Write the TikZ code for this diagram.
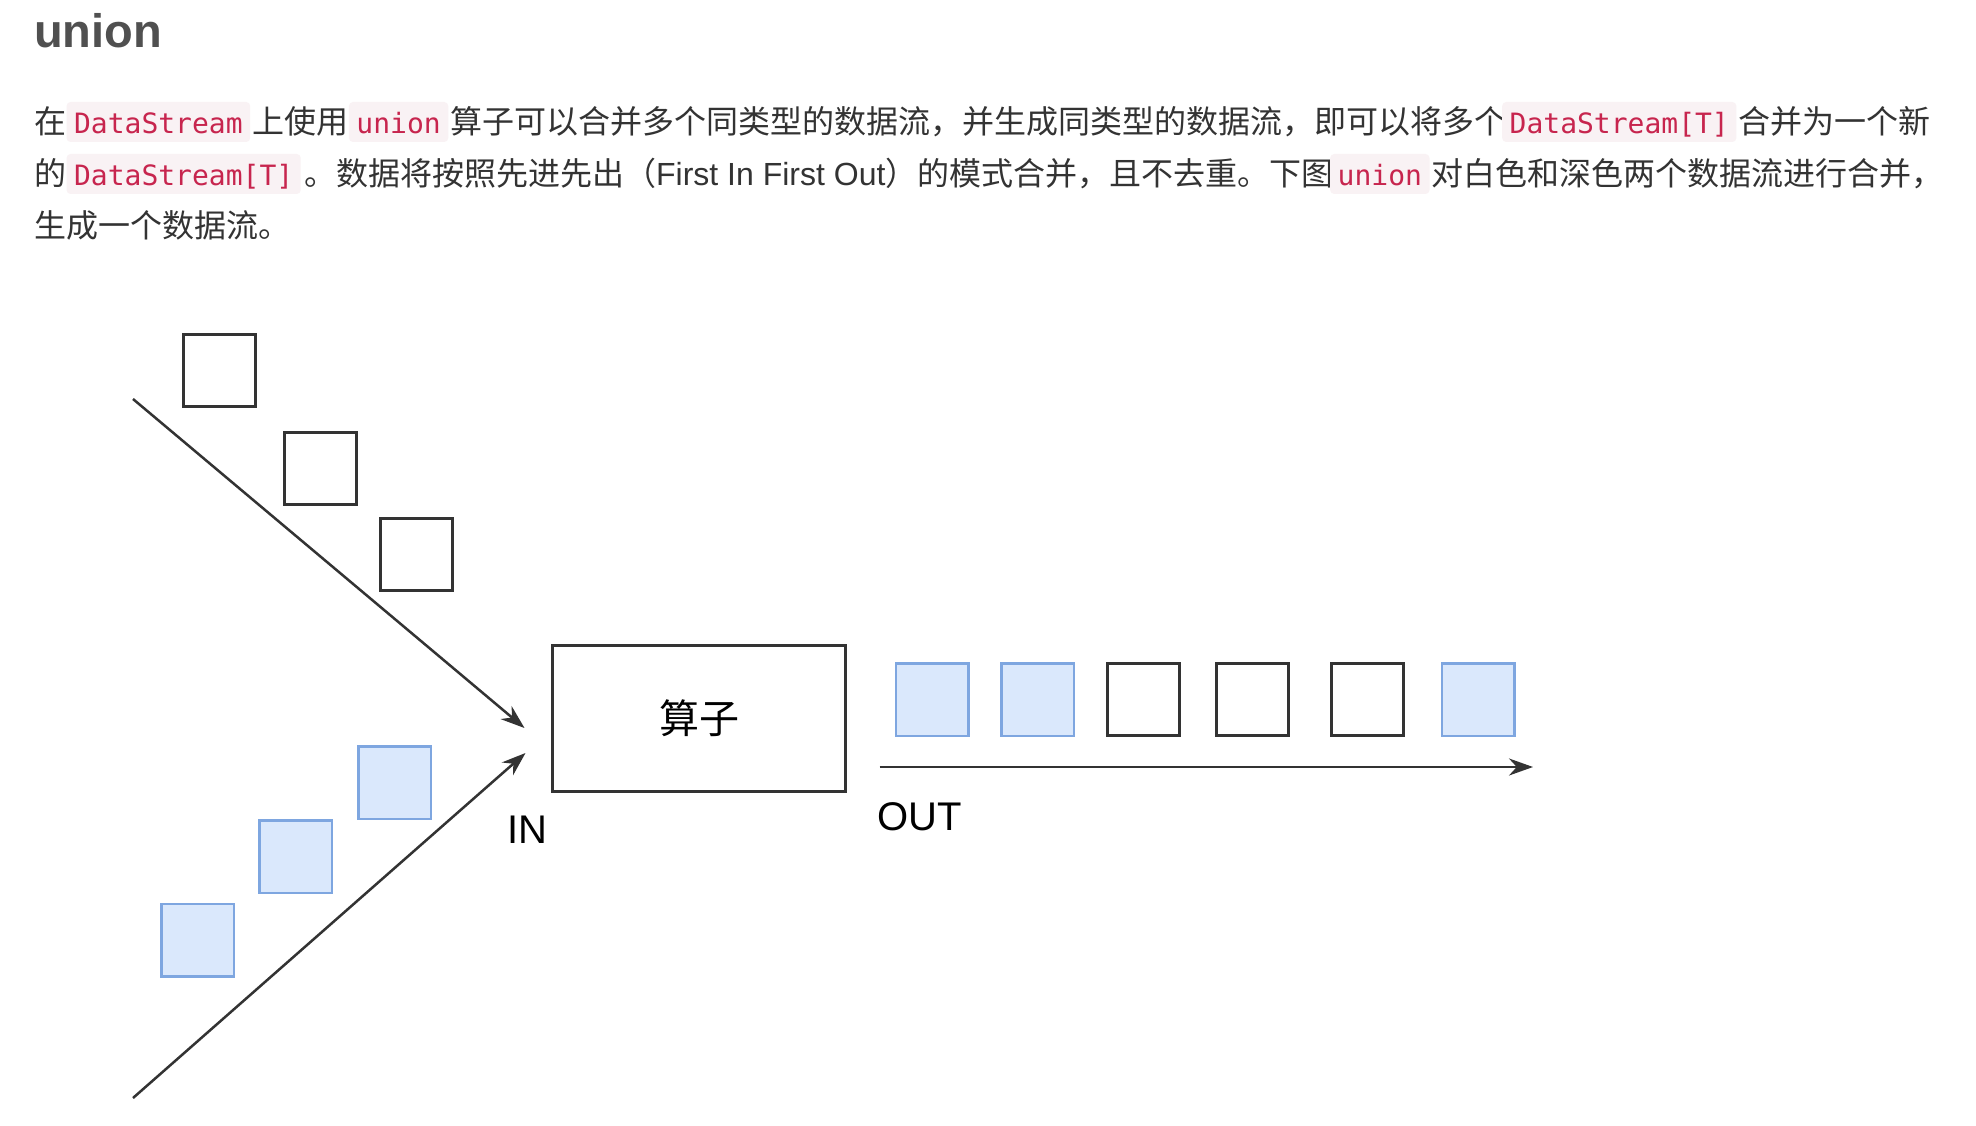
\documentclass[tikz,border=0pt]{standalone}
\usepackage{fontspec}
\usepackage{tikz}
\usetikzlibrary{calc,positioning,arrows.meta}
\setmainfont{Liberation Sans}
\newfontfamily\latinfont{Liberation Sans}
\newfontfamily\cjkfont{Noto Sans CJK SC}
\newfontfamily\codefont{DejaVu Sans Mono}
\definecolor{bodygray}{HTML}{333333}
\definecolor{titlegray}{HTML}{505050}
\definecolor{codered}{HTML}{C7254E}
\definecolor{codebg}{HTML}{F9F2F4}
\definecolor{linegray}{HTML}{333333}
\definecolor{bluefill}{HTML}{DAE8FC}
\definecolor{bluedraw}{HTML}{7EA6E0}
\tikzset{
	txt/.style={anchor=base west,inner sep=0pt,text=bodygray,font=\cjkfont\fontsize{32}{38}\selectfont},
	code/.style={anchor=base west,inner xsep=7.5pt,inner ysep=0pt,text height=32pt,text depth=8pt,fill=codebg,rounded corners=4pt,text=codered,font=\codefont\fontsize{28}{34}\selectfont},
	whitebox/.style={draw=linegray,line width=3pt,minimum size=72pt,inner sep=0pt},
	bluebox/.style={draw=bluedraw,fill=bluefill,line width=2.5pt,minimum size=72.5pt,inner sep=0pt},
	flow/.style={draw=linegray,line width=2.5pt},
	lbl/.style={font=\latinfont\fontsize{40}{48}\selectfont,text=black,inner sep=0pt}
}

\begin{document}
\begin{tikzpicture}[x=1pt,y=-1pt]
		\fill[white] (0,0) rectangle (1976,1126);
		\useasboundingbox (0,0) rectangle (1976,1126);

		\node[anchor=base west,inner sep=0pt,text=titlegray,font=\latinfont\bfseries\fontsize{47}{56}\selectfont] (title) at (34,48) {union};

		\node[txt] (l1a) at (34,134) {在};
		\node[code] (l1b) at (l1a.base east) {DataStream};
		\node[txt] (l1c) at ($(l1b.base east)+(2,0)$) {上使用};
		\node[code] (l1d) at (l1c.base east) {union};
		\node[txt] (l1e) at ($(l1d.base east)+(2,0)$) {算子可以合并多个同类型的数据流，并生成同类型的数据流，即可以将多个};
		\node[code] (l1f) at (1502,134) {DataStream[T]};
		\node[txt] (l1g) at ($(l1f.base east)+(2,0)$) {合并为一个新};

		\node[txt] (l2a) at (34,186) {的};
		\node[code] (l2b) at (l2a.base east) {DataStream[T]};
		\node[txt] (l2c) at ($(l2b.base east)+(3,0)$) {。数据将按照先进先出（{\latinfont First In First Out}）的模式合并，且不去重。下图};
		\node[code] (l2d) at (1330,186) {union};
		\node[txt] (l2e) at ($(l2d.base east)+(2,0)$) {对白色和深色两个数据流进行合并，};

		\node[txt] (l3a) at (34,238) {生成一个数据流。};

		\node[whitebox] (w1) at (219.5,370) {};
		\node[whitebox] (w2) at (320,468) {};
		\node[whitebox] (w3) at (416,554) {};
		\node[bluebox] (b1) at (197.5,940) {};
		\node[bluebox] (b2) at (295.5,856.5) {};
		\node[bluebox] (b3) at (394.5,782.5) {};

		\node[draw=linegray,line width=3pt,minimum width=293pt,minimum height=146pt,inner sep=0pt,font=\cjkfont\fontsize{40}{48}\selectfont] (op) at (699,718.5) {算子};
		\node[lbl] (inlbl) at (527,829.5) {IN};
		\node[lbl,anchor=west] (outlbl) at (877,816.5) {OUT};

		\foreach \x/\s [count=\i] in {932/bluebox,1037.5/bluebox,1143.5/whitebox,1252.5/whitebox,1367.5/whitebox,1478/bluebox}
			\node[\s] (o\i) at (\x,699.5) {};

		\coordinate (srcA) at (133,399);
		\coordinate (srcB) at (133,1098);
		\coordinate (tipA) at ($(op.west)+(-26.5,9.5)$);
		\coordinate (tipB) at ($(op.west)+(-25.5,34.5)$);
		\coordinate (outA) at ($(op.east)+(32.5,48.5)$);
		\coordinate (outB) at (1533,767);
		\draw[flow,-{Stealth[length=24pt,width=17pt]}] (srcA) -- (tipA);
		\draw[flow,-{Stealth[length=24pt,width=17pt]}] (srcB) -- (tipB);
		\draw[flow,-{Stealth[length=24pt,width=17pt]}] (outA) -- (outB);
\end{tikzpicture}
\end{document}
